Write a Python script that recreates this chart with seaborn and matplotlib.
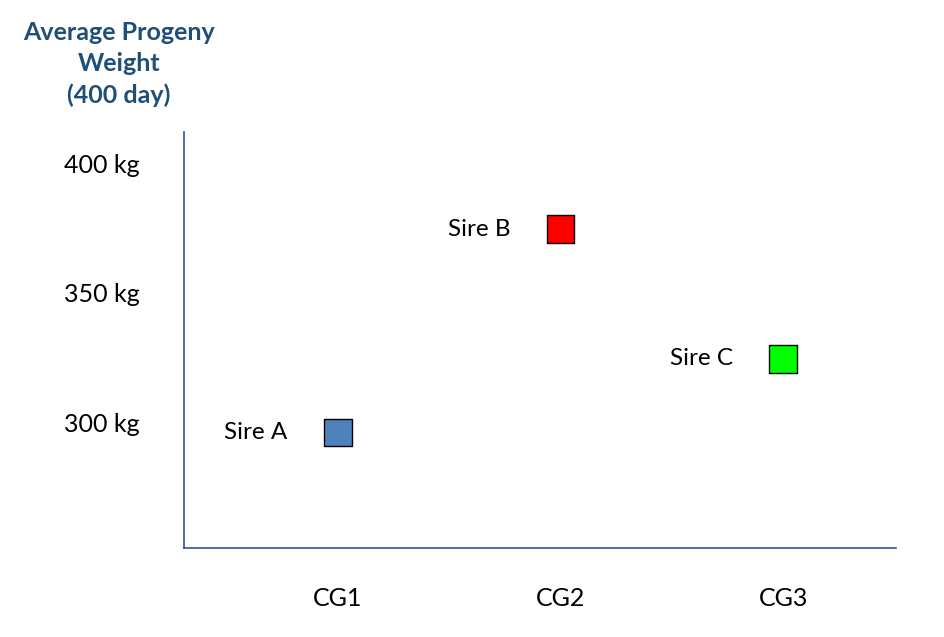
import matplotlib
matplotlib.use("Agg")
import matplotlib.pyplot as plt
import seaborn as sns
import pandas as pd

# data
groups = ["CG1", "CG2", "CG3"]
sires = ["Sire A", "Sire B", "Sire C"]
weights = [296, 374.5, 324.5]
colors = ["#4F81BD", "#FF0000", "#00FF00"]
y_ticks = [300, 350, 400]
y_labels = ["300 kg", "350 kg", "400 kg"]

df = pd.DataFrame({"group": groups, "sire": sires, "weight": weights})

sns.set_theme(style="white")
plt.rcParams["font.family"] = ["Lato", "DejaVu Sans"]

fig = plt.figure(figsize=(9.44, 6.37), dpi=100)
ax = fig.add_axes([0.1949, 0.1397, 0.7543, 0.6531])

sns.scatterplot(data=df, x="group", y="weight", hue="sire",
                palette=colors, marker="s", s=400,
                edgecolor="black", linewidth=1, legend=False, ax=ax)

for g, s, w in zip(groups, sires, weights):
    ax.annotate(s, (g, w), xytext=(-36, 0), textcoords="offset points",
                ha="right", va="center", fontsize=17.5, color="black")

ax.set_xlim(-0.69, 2.507)
ax.set_ylim(251.4, 412.0)
ax.set_yticks(y_ticks)
ax.set_yticklabels(y_labels)
ax.tick_params(axis="y", length=0, pad=32, labelsize=18, labelcolor="black")
ax.tick_params(axis="x", length=0, pad=28, labelsize=18, labelcolor="black")
ax.set_xlabel("")
ax.set_ylabel("")

for side in ["top", "right"]:
    ax.spines[side].set_visible(False)
for side in ["left", "bottom"]:
    ax.spines[side].set_color("#2F5597")
    ax.spines[side].set_linewidth(1.2)

fig.text(119 / 944, 1 - 64 / 637, "Average Progeny\nWeight\n(400 day)",
         ha="center", va="center", fontsize=18, fontweight="bold",
         color="#1F4E79", linespacing=1.45)

fig.savefig("out.png", dpi=100)
